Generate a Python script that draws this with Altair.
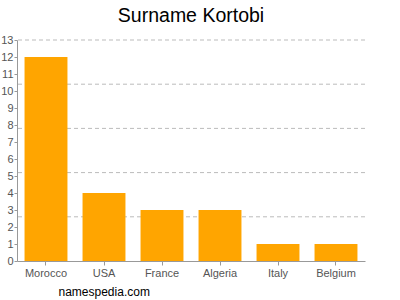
import altair as alt
import pandas as pd

countries = ["Morocco", "USA", "France", "Algeria", "Italy", "Belgium"]
counts = [12, 4, 3, 3, 1, 1]
grid_values = [2.6, 5.2, 7.8, 10.4, 13]
y_ticks = list(range(0, 14))

df = pd.DataFrame({"country": countries, "count": counts})
grid_df = pd.DataFrame({"g": grid_values})

y_axis = alt.Axis(title=None, values=y_ticks, grid=False, labelColor="#555555",
                  labelFontSize=11, labelFont="Liberation Sans", labelOverlap=False,
                  domainColor="#999999", tickColor="#999999", tickSize=3,
                  labelPadding=1)
y_scale = alt.Scale(domain=[0, 13], nice=False)

bars = alt.Chart(df).mark_bar(color="#FFA500").encode(
    x=alt.X("country:N", sort=countries,
            scale=alt.Scale(paddingInner=0.26, paddingOuter=0.13),
            axis=alt.Axis(title="namespedia.com", labelAngle=0, labelColor="#555555",
                          labelFontSize=11, labelFont="Liberation Sans",
                          domainColor="#999999", tickColor="#999999", tickSize=4,
                          titleFont="Liberation Sans", titleFontSize=12,
                          titleFontWeight="normal", titleColor="#000000",
                          titleAnchor="start", titleAlign="left", titleBaseline="middle",
                          titleX=41, titleY=30)),
    y=alt.Y("count:Q", scale=y_scale, axis=y_axis),
)

grid = alt.Chart(grid_df).mark_rule(color="#bbbbbb", strokeDash=[4, 3], strokeWidth=1).encode(
    y=alt.Y("g:Q", scale=y_scale, axis=y_axis),
)

chart = alt.layer(grid, bars).properties(
    width=348, height=221,
    title=alt.TitleParams("Surname Kortobi", fontSize=19.5, font="Liberation Sans",
                          fontWeight="normal", color="#000000", anchor="middle", offset=8),
    autosize=alt.AutoSizeParams(type="none"),
    padding={"left": 17, "top": 40, "right": 35, "bottom": 39},
).configure_view(stroke=None)

chart.save("out.html", embed_options={"renderer": "svg", "actions": False})
